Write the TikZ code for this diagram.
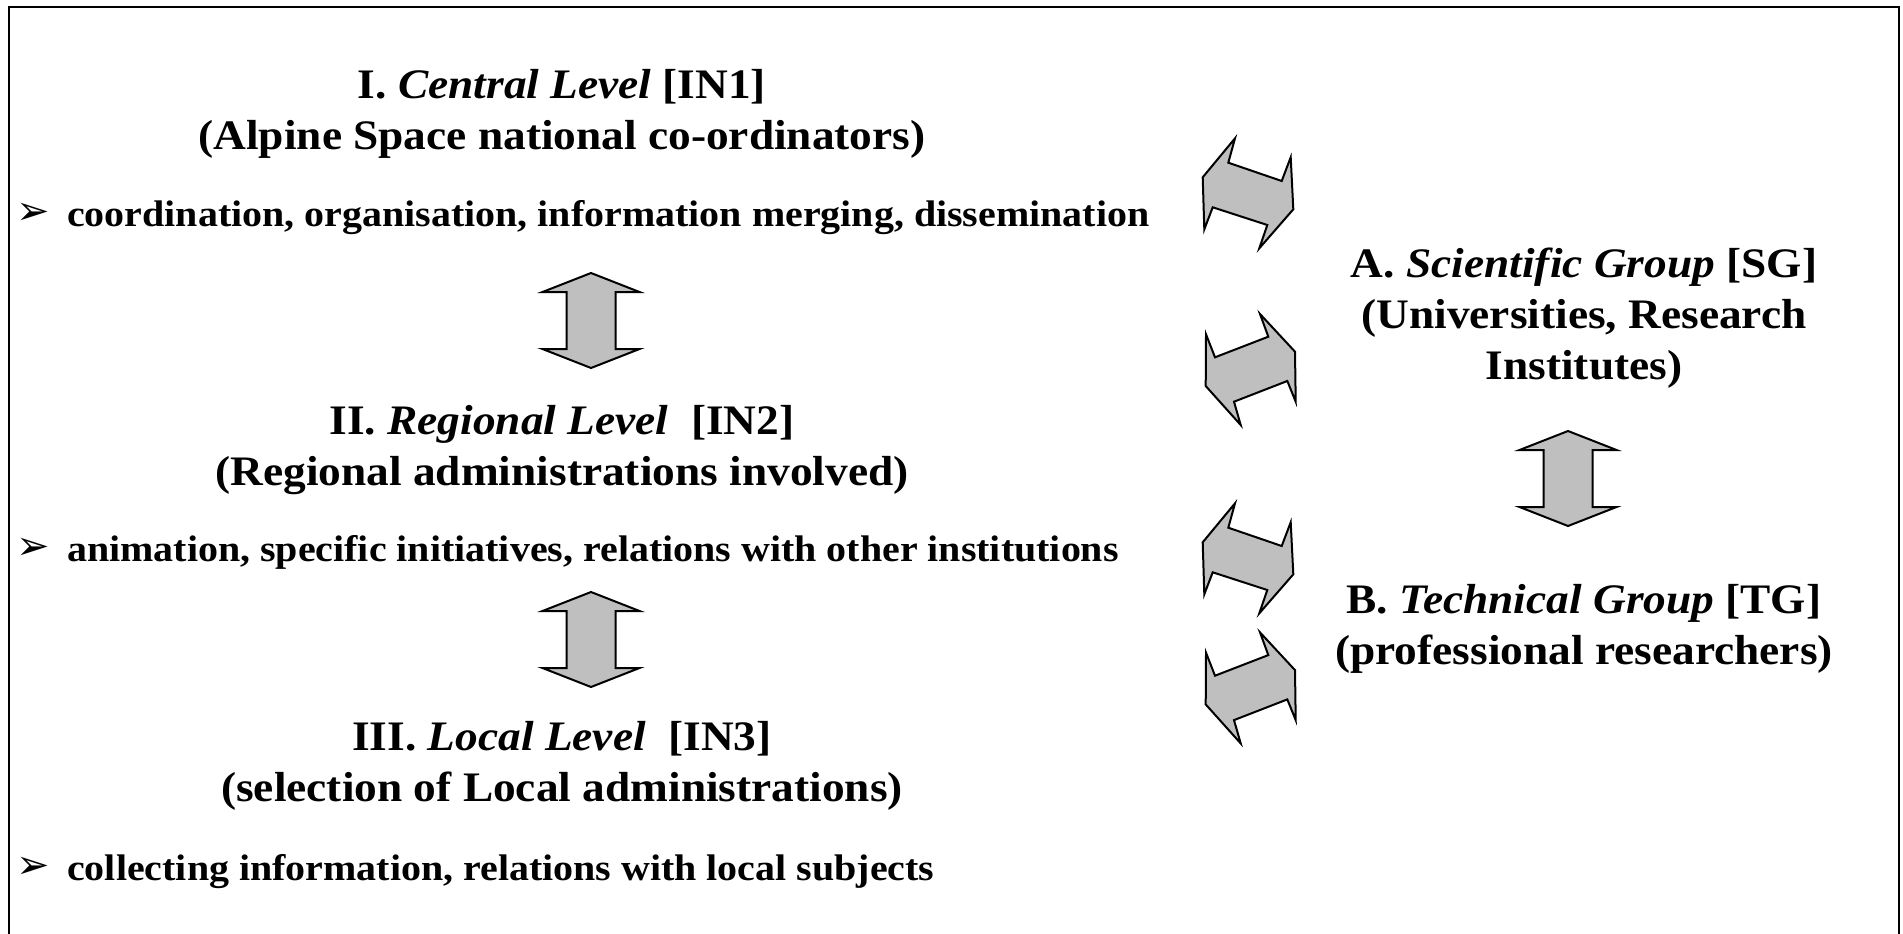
\documentclass[tikz,border=0pt]{standalone}
\usepackage{fontspec}
\setmainfont[FakeStretch=1.08]{Liberation Serif}
\newfontfamily\bulletfont{DejaVu Sans}

\tikzstyle{blockarrow}=[draw=black,fill=black!25,line width=2pt,line join=miter]

\begin{document}
\begin{tikzpicture}[x=1pt,y=-1pt]
\tikzstyle{level}=[anchor=base,inner sep=0pt,font=\fontsize{42}{50}\selectfont\bfseries]
\tikzstyle{task}=[anchor=base west,inner sep=0pt,font=\fontsize{37}{44}\selectfont\bfseries]
\tikzstyle{bulletmark}=[anchor=center,inner sep=0pt,font=\fontsize{40}{44}\selectfont\bulletfont]
\useasboundingbox (0,0) rectangle (1903,934);
% frame
\draw[line width=2.5pt] (9,934) -- (9,7) -- (1899,7) -- (1899,934);
% institutional levels
\node[level] (l1) at (562,98) {I. \textit{Central Level} [IN1]};
\node[level] (l1s) at (562,149) {(Alpine Space national co-ordinators)};
\node[task] (t1) at (67,226) {coordination, organisation, information merging, dissemination};
\node[bulletmark] (m1) at (33,214) {➢};
\node[level] (l2) at (562,434) {II. \textit{Regional Level}\ \ [IN2]};
\node[level] (l2s) at (562,485) {(Regional administrations involved)};
\node[task] (t2) at (67,561) {animation, specific initiatives, relations with other institutions};
\node[bulletmark] (m2) at (33,549) {➢};
\node[level] (l3) at (562,750) {III. \textit{Local Level}\ \ [IN3]};
\node[level] (l3s) at (562,801) {(selection of Local administrations)};
\node[task] (t3) at (67,880) {collecting information, relations with local subjects};
\node[bulletmark] (m3) at (33,868) {➢};
% groups
\node[level] (ga) at (1584,277) {A. \textit{Scientific Group} [SG]};
\node[level] (gas) at (1584,328) {(Universities, Research};
\node[level] (gat) at (1584,379) {Institutes)};
\node[level] (gb) at (1584,613) {B. \textit{Technical Group} [TG]};
\node[level] (gbs) at (1584,664) {(professional researchers)};
% vertical arrows
\foreach \cx/\cy in {591/320.5, 591/639.5, 1568/478.5}
  \draw[blockarrow, shift={(\cx,\cy)}] (0,-47.5) -- (48.5,-28.5) -- (24.5,-28.5)
    -- (24.5,28.5) -- (48.5,28.5) -- (0,47.5) -- (-48.5,28.5) -- (-24.5,28.5)
    -- (-24.5,-28.5) -- (-48.5,-28.5) -- cycle;
% slanted arrows
\foreach \dy in {0,365}
  \draw[blockarrow, shift={(0,\dy)}] (1235,138.3) -- (1228.3,162.7) -- (1281.7,181)
    -- (1290.7,157.3) -- (1293.3,209.3) -- (1259.3,248.3) -- (1267.3,225)
    -- (1212.7,207.3) -- (1204.3,229.3) -- (1202.7,177.3) -- cycle;
\foreach \dy in {0,318.4}
  \draw[blockarrow, shift={(0,\dy)}] (1206,334.3) -- (1215,357.3) -- (1268.3,336.7)
    -- (1260,314) -- (1295,351.7) -- (1295.7,401.7) -- (1287.3,381)
    -- (1234,401.7) -- (1240.7,425) -- (1205.7,386) -- cycle;
\end{tikzpicture}
\end{document}
